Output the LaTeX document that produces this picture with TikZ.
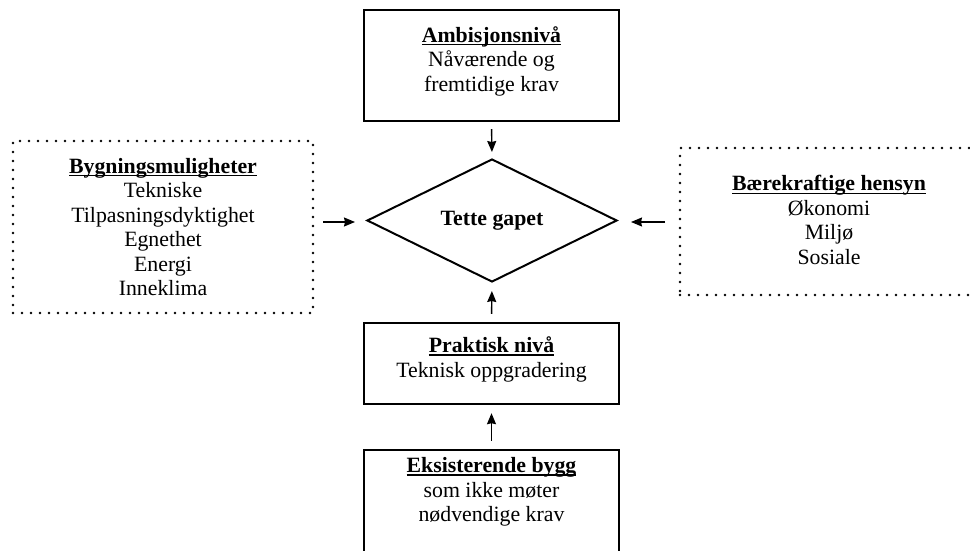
\documentclass[tikz,border=0pt]{standalone}
\usepackage{fontspec}
\setmainfont{Liberation Serif}
\usetikzlibrary{shapes.geometric,arrows.meta}
\newcommand\myul[1]{\setbox0\hbox{#1}\rlap{\rule[-3.2pt]{\wd0}{1.5pt}}\box0}
\begin{document}
\begin{tikzpicture}[x=1pt,y=-1pt,
  solidbox/.style={draw, line width=2.4pt, inner sep=0pt},
  dotbox/.style={draw, line width=2.6pt, dash pattern=on 0pt off 9pt, line cap=round, inner sep=0pt},
  lbl/.style={align=center, font=\fontsize{21.8}{24.5}\selectfont, inner sep=0pt},
  conn/.style={line width=1.4pt, -{Stealth[length=11pt,width=9pt,inset=1pt]}}]
\useasboundingbox (0,0) rectangle (970,551);
% boxes
\node[solidbox, minimum width=255pt, minimum height=111pt] (amb) at (491.5,65.5) {};
\node[lbl] (ambt) at (491.5,61) {\myul{\textbf{Ambisjonsnivå}}\\Nåværende og\\fremtidige krav};

\node[dotbox, minimum width=300pt, minimum height=172pt] (byg) at (163,227) {};
\node[lbl] (bygt) at (163,227) {\myul{\textbf{Bygningsmuligheter}}\\Tekniske\\Tilpasningsdyktighet\\Egnethet\\Energi\\Inneklima};

\node[dotbox, minimum width=305pt, minimum height=147pt] (baer) at (832.5,221.5) {};
\node[lbl] (baert) at (829,220) {\myul{\textbf{Bærekraftige hensyn}}\\Økonomi\\Miljø\\Sosiale};

\node[draw, diamond, line width=2pt, minimum width=250pt, minimum height=123pt, inner sep=0pt, font=\fontsize{21.8}{24.5}\selectfont\bfseries] (dia) at (492,220.5) {Tette gapet};

\node[solidbox, minimum width=255pt, minimum height=81pt] (prak) at (491.5,363.5) {};
\node[lbl] (prakt) at (491.5,359.5) {\myul{\textbf{Praktisk nivå}}\\Teknisk oppgradering};

\node[solidbox, minimum width=255pt, minimum height=140pt] (eks) at (491.5,520) {};
\node[lbl] (ekst) at (491.5,492) {\myul{\textbf{Eksisterende bygg}}\\som ikke møter\\nødvendige krav};

% connectors
\draw[conn, shorten <=7pt, shorten >=6pt] (amb.south) -- (dia.north);
\draw[conn, shorten <=8pt, shorten >=8pt] (prak.north) -- (dia.south);
\draw[conn, shorten <=8pt, shorten >=8pt] (eks.north) -- (prak.south);
\coordinate (lstart) at (323,222);
\coordinate (rstart) at (665,222);
\draw[conn, shorten >=11pt] (lstart) -- (dia.west |- lstart);
\draw[conn, shorten >=13pt] (rstart) -- (dia.east |- rstart);
\end{tikzpicture}
\end{document}
